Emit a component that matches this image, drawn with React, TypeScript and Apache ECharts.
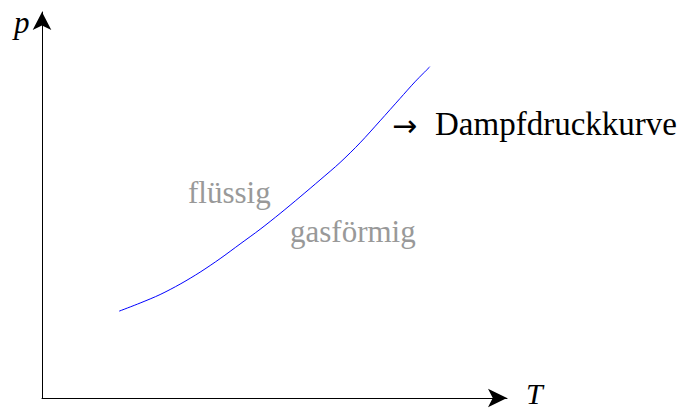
import React, { useEffect, useRef } from "react";
import * as echarts from "echarts";

// Vapour-pressure curve: temperature T (x) vs pressure p (y), arbitrary units
const curveT = [1.66, 2.11, 2.54, 2.97, 3.4, 3.83, 4.26, 4.69, 5.12, 5.55, 5.98, 6.41, 6.84, 7.27, 7.7, 8.02, 8.34];
const curveP = [2.25, 2.46, 2.68, 2.95, 3.26, 3.61, 3.99, 4.37, 4.78, 5.21, 5.65, 6.1, 6.61, 7.18, 7.76, 8.19, 8.58];

const axisXLabel = "T";
const axisYLabel = "p";
const curveLabel = "Dampfdruckkurve";
const regionLabels = ["flüssig", "gasförmig"];

export default function App() {
  const ref = useRef<HTMLDivElement>(null);

  useEffect(() => {
    if (!ref.current) return;
    const chart = echarts.init(ref.current, null, { renderer: "svg" });
    const data = curveT.map((t, i) => [t, curveP[i]]);
    const txt = (text: string, x: number, y: number, size: number, fill: string, family: string, italic = false) => ({
      type: "text",
      x,
      y,
      style: {
        text,
        fontFamily: family,
        fontSize: size,
        fontStyle: italic ? "italic" : "normal",
        fill,
        textAlign: "left",
        textVerticalAlign: "middle",
      },
    });
    chart.setOption({
      animation: false,
      grid: { left: 42, right: 173, top: 12, bottom: 10, containLabel: false },
      xAxis: {
        type: "value",
        min: 0,
        max: 10,
        axisLine: {
          show: true,
          onZero: false,
          lineStyle: { color: "#000", width: 1 },
          symbol: ["none", "arrow"],
          symbolSize: [14, 19],
        },
        axisTick: { show: false },
        axisLabel: { show: false },
        splitLine: { show: false },
      },
      yAxis: {
        type: "value",
        min: 0,
        max: 10,
        axisLine: {
          show: true,
          onZero: false,
          lineStyle: { color: "#000", width: 1 },
          symbol: ["none", "arrow"],
          symbolSize: [14, 18],
        },
        axisTick: { show: false },
        axisLabel: { show: false },
        splitLine: { show: false },
      },
      series: [
        {
          type: "line",
          data,
          smooth: 0.3,
          showSymbol: false,
          symbol: "none",
          lineStyle: { color: "#0000ff", width: 1 },
        },
      ],
      graphic: [
        txt(axisYLabel, 14, 22.5, 31, "#000", "serif", true),
        txt(axisXLabel, 526, 393, 30, "#000", "serif", true),
        txt("→", 392, 125, 30, "#000", "DejaVu Sans"),
        txt(curveLabel, 435, 123.5, 33, "#000", "serif"),
        txt(regionLabels[0], 188, 192.5, 31, "#999999", "Liberation Serif"),
        txt(regionLabels[1], 290, 231.5, 31, "#999999", "Times New Roman"),
      ],
    });
    return () => chart.dispose();
  }, []);

  return (
    <div
      ref={ref}
      style={{ position: "fixed", left: 0, top: 0, width: 680, height: 408, background: "#fff" }}
    />
  );
}
